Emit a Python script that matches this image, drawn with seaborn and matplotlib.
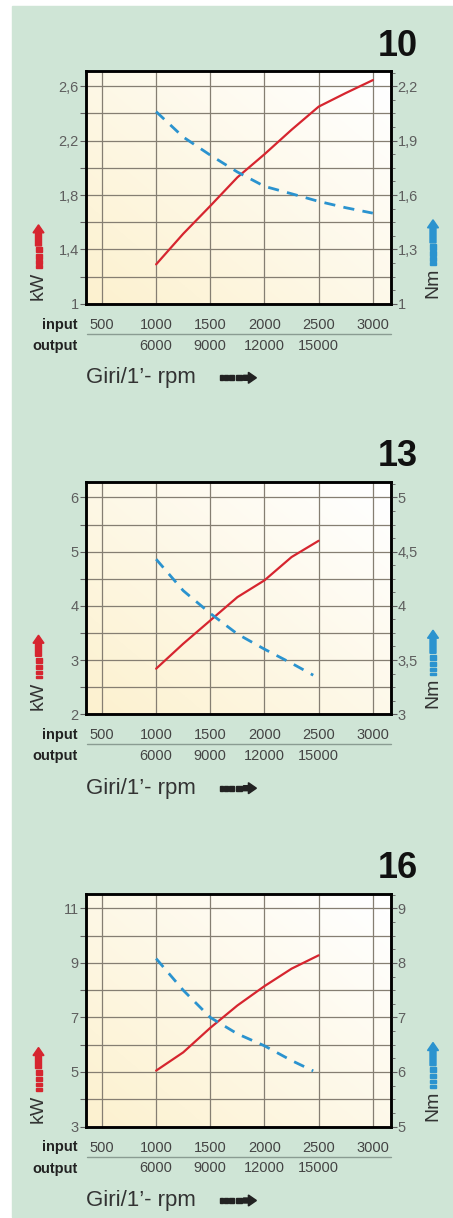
import numpy as np
import pandas as pd
import matplotlib
matplotlib.use("Agg")
import matplotlib.pyplot as plt
import matplotlib.transforms as mtransforms
from matplotlib.patches import Rectangle, Polygon
import seaborn as sns

sns.set_style("white")
plt.rcParams["font.family"] = ["Liberation Sans", "DejaVu Sans"]

# --- data ---
sizes = ["10", "13", "16"]

rpm_10 = [1000, 1250, 1500, 1750, 2000, 2250, 2500, 2750, 3000]
kw_10 = [1.29, 1.515, 1.72, 1.93, 2.10, 2.28, 2.45, 2.55, 2.645]
nm_rpm_10 = [1000, 1250, 1500, 1750, 2000, 2250, 2500, 2750, 3000]
nm_10 = [2.06, 1.92, 1.82, 1.727, 1.648, 1.607, 1.565, 1.53, 1.50]

rpm_13 = [1000, 1250, 1500, 1750, 2000, 2250, 2500]
kw_13 = [2.84, 3.30, 3.73, 4.16, 4.47, 4.90, 5.20]
nm_rpm_13 = [1000, 1250, 1500, 1750, 2000, 2250, 2450]
nm_13 = [4.43, 4.14, 3.93, 3.74, 3.60, 3.47, 3.36]

rpm_16 = [1000, 1250, 1500, 1750, 2000, 2250, 2500]
kw_16 = [5.05, 5.72, 6.62, 7.44, 8.15, 8.79, 9.28]
nm_rpm_16 = [1000, 1250, 1500, 1750, 2000, 2250, 2450]
nm_16 = [8.08, 7.50, 7.00, 6.70, 6.48, 6.21, 6.02]

# axis scales: left kW (min, grid step, top), right Nm (min, label step, ratio)
kw_min = [1.0, 2.0, 3.0]
kw_step = [0.2, 0.5, 1.0]
kw_top = [2.71, 6.29, 11.53]
nm_min = [1.0, 3.0, 5.0]
nm_step = [0.3, 0.5, 1.0]
nm_per_kw = [0.75, 0.5, 0.5]

input_ticks = [500, 1000, 1500, 2000, 2500, 3000]
output_ticks = [6000, 9000, 12000, 15000]

curves = [
    (rpm_10, kw_10, nm_rpm_10, nm_10),
    (rpm_13, kw_13, nm_rpm_13, nm_13),
    (rpm_16, kw_16, nm_rpm_16, nm_16),
]

W, H = 453, 1218
GREEN = "#cfe5d6"
RED = "#d6252f"
BLUE = "#2b93cf"
GRID = "#857e72"
TICKC = "#5e5e5e"


def fx(x):
    return x / W


def fy(y):
    return 1 - y / H


def fmt(v):
    s = f"{v:.1f}".rstrip("0").rstrip(".")
    return s.replace(".", ",")


fig = plt.figure(figsize=(W / 100, H / 100), dpi=100)
fig.patch.set_facecolor("white")
fig.add_artist(Rectangle((fx(12), fy(1217)), 1 - fx(12), (1217 - 6) / H,
                         color=GREEN, transform=fig.transFigure, zorder=0))


def arrow_up(xc, ybot, ytip, color):
    # dashed column + arrowhead, figure pixel coords
    heights = [2.5, 3.5, 4.5, 5.0]
    y = ybot
    for h in heights:
        fig.add_artist(Rectangle((fx(xc - 3), fy(y)), 6 / W, h / H, color=color,
                                 transform=fig.transFigure, zorder=3))
        y -= h + 1.6
    shaft_top = ytip + 8
    pts = [(xc - 3, y), (xc + 3, y), (xc + 3, shaft_top), (xc + 5.5, shaft_top),
           (xc, ytip), (xc - 5.5, shaft_top), (xc - 3, shaft_top)]
    fig.add_artist(Polygon([(fx(a), fy(b)) for a, b in pts], closed=True, color=color,
                           transform=fig.transFigure, zorder=3))


def arrow_right(xl, yc, color):
    widths = [2.5, 3.5, 5.0, 6.0]
    x = xl
    for w in widths:
        fig.add_artist(Rectangle((fx(x), fy(yc + 2.5)), w / W, 5 / H, color=color,
                                 transform=fig.transFigure, zorder=3))
        x += w + 1.6
    pts = [(x, yc - 2.5), (x + 5, yc - 2.5), (x + 5, yc - 5.5), (x + 13, yc),
           (x + 5, yc + 5.5), (x + 5, yc + 2.5), (x, yc + 2.5)]
    fig.add_artist(Polygon([(fx(a), fy(b)) for a, b in pts], closed=True, color=color,
                           transform=fig.transFigure, zorder=3))


# background gradient for the plot area (pale cream bottom-left -> white top-right)
gx, gy = np.meshgrid(np.linspace(0, 1, 200), np.linspace(1, 0, 200))
t = np.clip(0.55 * gx + 0.5 * gy, 0, 1)[..., None]
cream = np.array([0.99, 0.945, 0.81])
grad = cream * (1 - t) + np.array([1.0, 1.0, 1.0]) * t

AX_L, AX_W, AX_H = 85.7, 305.0, 232.5
tops = [71.3, 481.7, 894.0]

for i, (rp, kw, nrp, nm) in enumerate(curves):
    T = tops[i]
    B = T + AX_H
    ax = fig.add_axes([fx(AX_L), fy(B), AX_W / W, AX_H / H])
    ax.imshow(grad, extent=[0, 1, 0, 1], transform=ax.transAxes, aspect="auto", zorder=0)
    ax.set_xlim(350, 3165)
    ax.set_ylim(kw_min[i], kw_top[i])

    ygrid = np.arange(kw_min[i], kw_top[i] - 0.01, kw_step[i])
    ylabels = [fmt(v) if k % 2 == 0 else "" for k, v in enumerate(ygrid)]
    ax.set_yticks(ygrid, labels=ylabels)
    ax.set_xticks(input_ticks, labels=[""] * len(input_ticks))
    ax.set_axisbelow(True)
    ax.grid(True, color=GRID, lw=0.9)
    ax.tick_params(axis="y", length=4, width=0.8, pad=1, colors=TICKC, labelsize=10.5)
    ax.tick_params(axis="x", length=0)

    df = pd.DataFrame({"rpm": rp, "kw": kw})
    sns.lineplot(data=df, x="rpm", y="kw", ax=ax, color=RED, lw=1.6)
    ax.set_xlabel("")
    ax.set_ylabel("")

    ax2 = ax.twinx()
    n0 = nm_min[i]
    n1 = n0 + (kw_top[i] - kw_min[i]) * nm_per_kw[i]
    ax2.set_ylim(n0, n1)
    nt = np.arange(n0, n1 - 0.01, nm_step[i])
    ax2.set_yticks(nt, labels=[fmt(v) for v in nt])
    ax2.set_yticks(np.arange(n0, n1, nm_step[i] / 4), minor=True)
    ax2.tick_params(axis="y", which="major", length=4, width=0.8, pad=1,
                    colors=TICKC, labelsize=10.5)
    ax2.tick_params(axis="y", which="minor", length=3, width=0.6, colors=TICKC)
    dn = pd.DataFrame({"rpm": nrp, "nm": nm})
    sns.lineplot(data=dn, x="rpm", y="nm", ax=ax2, color=BLUE, lw=2.0,
                 linestyle=(0, (4, 3)))
    ax2.set_ylabel("")
    ax2.grid(False)

    for a in (ax, ax2):
        for sp in a.spines.values():
            sp.set_color("black")
            sp.set_linewidth(1.8)

    # input / output rows
    blend = mtransforms.blended_transform_factory(ax.transData, ax.transAxes)
    for v in input_ticks:
        ax.text(v, -21 / AX_H, str(v), transform=blend, ha="center", va="center",
                fontsize=10.5, color="#444444")
    for v, o in zip(input_ticks[1:], output_ticks):
        ax.text(v, -42 / AX_H, str(o), transform=blend, ha="center", va="center",
                fontsize=10.5, color="#444444")
    ax.plot([0.005, 1.0], [-30 / AX_H, -30 / AX_H], transform=ax.transAxes,
            color="#8a9c92", lw=1.0, clip_on=False)
    ax.text(-8.5 / AX_W, -21 / AX_H, "input", transform=ax.transAxes, ha="right",
            va="center", fontsize=10.5, fontweight="bold", color="#222222")
    ax.text(-8.5 / AX_W, -42 / AX_H, "output", transform=ax.transAxes, ha="right",
            va="center", fontsize=10.5, fontweight="bold", color="#222222")
    ax.text(0.0, -74 / AX_H, "Giri/1\u2019- rpm", transform=ax.transAxes, ha="left",
            va="center", fontsize=16, color="#333333")
    arrow_right(220, B + 74, "#222222")

    # size label
    ax.text((418 - AX_L) / AX_W, 1 + 25 / AX_H, sizes[i], transform=ax.transAxes,
            ha="right", va="center", fontsize=26, fontweight="bold", color="#111111")

    # unit labels with arrows
    fig.text(fx(38.5), fy(B - 18), "kW", rotation=90, ha="center", va="center",
             fontsize=14, color="#333333")
    arrow_up(38.5, B - 36, B - 79, RED)
    fig.text(fx(433), fy(B - 21), "Nm", rotation=90, ha="center", va="center",
             fontsize=14, color="#333333")
    arrow_up(433, B - 39, B - 84, BLUE)

fig.savefig("out.png", dpi=100)
